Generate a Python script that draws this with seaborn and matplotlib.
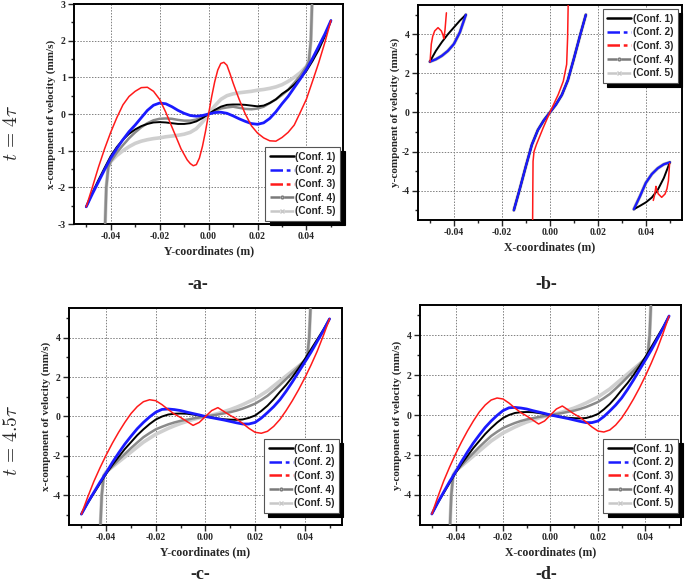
import matplotlib
matplotlib.use("Agg")
import matplotlib.pyplot as plt
from matplotlib.lines import Line2D
from matplotlib.ticker import MultipleLocator, FormatStrFormatter
import seaborn as sns

sns.set_style("white")
plt.rcParams.update({
    "font.family": "Liberation Serif",
    "font.weight": "bold",
    "axes.unicode_minus": False,
    "mathtext.fontset": "cm",
})

CONFS = ["(Conf. 1)", "(Conf. 2)", "(Conf. 3)", "(Conf. 4)", "(Conf. 5)"]

# shared coordinate lists
X_FINE = [-0.05, -0.0475, -0.045, -0.0425, -0.04, -0.0375, -0.035, -0.0325, -0.03, -0.0275,
          -0.025, -0.0225, -0.02, -0.0175, -0.015, -0.0125, -0.01, -0.0075, -0.005, -0.0025, 0.0,
          0.0025, 0.005, 0.0075, 0.01, 0.0125, 0.015, 0.0175, 0.02, 0.0225, 0.025,
          0.0275, 0.03, 0.0325, 0.035, 0.0375, 0.04, 0.0425, 0.045, 0.0475, 0.05]
X_GRAY = [-0.0425, -0.0418, -0.041, -0.04, -0.0375, -0.035, -0.0325, -0.03, -0.0275, -0.025,
          -0.0225, -0.02, -0.0175, -0.015, -0.0125, -0.01, -0.0075, -0.005, -0.0025, 0.0,
          0.0025, 0.005, 0.0075, 0.01, 0.0125, 0.015, 0.0175, 0.02, 0.0225, 0.025,
          0.0275, 0.03, 0.0325, 0.035, 0.0375, 0.04, 0.041, 0.0418, 0.0425]

# ---- panel a : t = 4 tau, x-component vs Y ----
A_CONF1 = [-2.53, -2.15, -1.8, -1.47, -1.15, -0.9, -0.7, -0.54, -0.42, -0.33,
           -0.27, -0.23, -0.22, -0.23, -0.25, -0.27, -0.27, -0.25, -0.2, -0.11, 0.0,
           0.11, 0.2, 0.25, 0.26, 0.26, 0.25, 0.23, 0.21, 0.23, 0.3,
           0.4, 0.55, 0.66, 0.8, 0.97, 1.18, 1.45, 1.75, 2.12, 2.55]
A_CONF2 = [-2.53, -2.18, -1.85, -1.52, -1.2, -0.94, -0.7, -0.48, -0.3, -0.1,
           0.1, 0.24, 0.3, 0.28, 0.2, 0.1, 0.02, -0.04, -0.06, -0.04, 0.0,
           0.04, 0.05, 0.02, -0.05, -0.13, -0.2, -0.26, -0.28, -0.24, -0.12,
           0.06, 0.28, 0.48, 0.72, 0.96, 1.22, 1.52, 1.85, 2.18, 2.55]
A_RED_X = [-0.05, -0.0475, -0.045, -0.0425, -0.04, -0.0375, -0.035, -0.0325, -0.03, -0.0275,
           -0.025, -0.0225, -0.02, -0.0175, -0.015, -0.0125, -0.01125, -0.01, -0.00875, -0.0075,
           -0.00625, -0.005, -0.00375, -0.0025, -0.00125, 0.0, 0.00125, 0.0025, 0.00375, 0.005,
           0.00625, 0.0075, 0.00875, 0.01, 0.01125, 0.0125, 0.015, 0.0175, 0.02, 0.0225,
           0.025, 0.0275, 0.03, 0.0325, 0.035, 0.0375, 0.04, 0.0425, 0.045, 0.0475, 0.05]
A_CONF3 = [-2.53, -2.0, -1.45, -0.95, -0.5, -0.1, 0.25, 0.48, 0.62, 0.72,
           0.73, 0.62, 0.4, 0.05, -0.35, -0.75, -0.95, -1.1, -1.25, -1.35,
           -1.41, -1.38, -1.2, -0.88, -0.47, 0.0, 0.47, 0.88, 1.2, 1.38,
           1.41, 1.33, 1.1, 0.85, 0.62, 0.4, 0.0, -0.32, -0.52, -0.65,
           -0.73, -0.74, -0.64, -0.5, -0.3, 0.05, 0.41, 0.9, 1.4, 1.95, 2.55]
A_CONF4 = [-3.5, -2.0, -1.45, -1.3, -1.05, -0.85, -0.66, -0.5, -0.36, -0.25,
           -0.17, -0.13, -0.12, -0.13, -0.16, -0.18, -0.18, -0.15, -0.08, 0.0,
           0.08, 0.15, 0.18, 0.2, 0.17, 0.14, 0.13, 0.15, 0.2, 0.3,
           0.4, 0.52, 0.66, 0.85, 1.05, 1.3, 1.45, 2.0, 3.5]
A_CONF5 = [-3.5, -2.0, -1.45, -1.3, -1.13, -1.0, -0.89, -0.8, -0.74, -0.7,
           -0.67, -0.65, -0.62, -0.6, -0.58, -0.55, -0.5, -0.4, -0.22, 0.0,
           0.22, 0.4, 0.5, 0.55, 0.58, 0.6, 0.62, 0.65, 0.67, 0.7,
           0.74, 0.8, 0.89, 1.0, 1.13, 1.3, 1.45, 2.0, 3.5]

# ---- panel b : t = 4 tau, y-component vs X ----
B_CENTER_X = [-0.015, -0.0125, -0.01, -0.0075, -0.005, -0.0025, 0.0, 0.0025, 0.005, 0.0075, 0.01, 0.0125, 0.015]
B_CENTER_Y = [-5.0, -3.9, -2.75, -1.65, -0.9, -0.4, 0.0, 0.4, 0.9, 1.65, 2.75, 3.9, 5.0]
B_TL_X = [-0.05, -0.0475, -0.045, -0.0425, -0.04, -0.0375, -0.035]
B_TL_CONF1 = [2.6, 3.15, 3.6, 4.0, 4.35, 4.7, 5.0]
B_TL_OTHERS = [2.6, 2.72, 2.9, 3.15, 3.5, 4.1, 5.0]
B_BR_X = [0.035, 0.0375, 0.04, 0.0425, 0.045, 0.0475, 0.05]
B_BR_CONF1 = [-4.95, -4.78, -4.6, -4.35, -3.95, -3.35, -2.55]
B_BR_OTHERS = [-4.95, -4.3, -3.6, -3.15, -2.85, -2.65, -2.55]
B_RED_CENTER_X = [-0.0072, -0.0071, -0.007, -0.0066, -0.0056, -0.0028, 0.0, 0.0035, 0.0056, 0.007, 0.0074, 0.0077]
B_RED_CENTER_Y = [-6.0, -4.0, -2.5, -2.0, -1.64, -0.79, 0.0, 0.92, 1.6, 2.46, 3.83, 6.0]
B_RED_TL_X = [-0.0499, -0.0494, -0.0488, -0.048, -0.0466, -0.0452, -0.0445, -0.0442, -0.0437, -0.0431]
B_RED_TL_Y = [2.6, 3.5, 3.9, 4.17, 4.34, 4.17, 3.95, 3.78, 4.2, 5.1]
B_RED_BR_X = [0.0499, 0.0494, 0.0488, 0.048, 0.0466, 0.0452, 0.0445, 0.0442, 0.0437, 0.0431]
B_RED_BR_Y = [-2.6, -3.5, -3.9, -4.17, -4.34, -4.17, -3.95, -3.78, -4.2, -4.5]

# ---- panels c, d : t = 4.5 tau (both panels show the same curves) ----
CD_CONF1 = [-4.95, -4.4, -3.9, -3.4, -2.9, -2.45, -2.05, -1.65, -1.3, -0.95,
            -0.65, -0.38, -0.15, 0.0, 0.1, 0.14, 0.15, 0.14, 0.1, 0.05, 0.0,
            -0.05, -0.1, -0.14, -0.16, -0.17, -0.15, -0.07, 0.05, 0.28, 0.55,
            0.88, 1.25, 1.6, 2.0, 2.43, 2.9, 3.4, 3.9, 4.4, 4.95]
CD_CONF2 = [-4.95, -4.38, -3.85, -3.33, -2.85, -2.33, -1.85, -1.4, -1.0, -0.62,
            -0.3, -0.02, 0.22, 0.36, 0.38, 0.35, 0.3, 0.22, 0.15, 0.08, 0.0,
            -0.06, -0.12, -0.18, -0.25, -0.32, -0.38, -0.38, -0.3, -0.08, 0.2,
            0.5, 0.85, 1.28, 1.75, 2.25, 2.75, 3.25, 3.8, 4.35, 4.95]
CD_CONF3 = [-4.95, -4.1, -3.3, -2.6, -1.95, -1.35, -0.8, -0.3, 0.15, 0.5,
            0.75, 0.85, 0.8, 0.6, 0.35, 0.12, -0.05, -0.25, -0.45, -0.3, 0.0,
            0.3, 0.45, 0.25, 0.05, -0.12, -0.35, -0.6, -0.8, -0.85, -0.75,
            -0.5, -0.15, 0.3, 0.8, 1.35, 1.95, 2.6, 3.3, 4.1, 4.95]
CD_CONF4 = [-6.0, -4.0, -3.0, -2.85, -2.52, -2.2, -1.9, -1.6, -1.32, -1.05,
            -0.84, -0.65, -0.52, -0.4, -0.3, -0.22, -0.16, -0.1, -0.05, 0.0,
            0.05, 0.1, 0.16, 0.22, 0.3, 0.4, 0.52, 0.65, 0.84, 1.05,
            1.32, 1.6, 1.9, 2.2, 2.52, 2.85, 3.0, 4.0, 6.0]
CD_CONF5 = [-6.0, -4.0, -3.0, -2.8, -2.55, -2.3, -2.05, -1.8, -1.55, -1.3,
            -1.1, -0.9, -0.75, -0.6, -0.47, -0.35, -0.25, -0.15, -0.07, 0.0,
            0.07, 0.15, 0.25, 0.35, 0.47, 0.6, 0.75, 0.9, 1.1, 1.3,
            1.55, 1.8, 2.05, 2.3, 2.55, 2.8, 3.0, 4.0, 6.0]

# curve styles (how each configuration looks inside the plot)
STYLE = {
    "(Conf. 1)": dict(color="black", lw=1.4, z=4),
    "(Conf. 2)": dict(color="#1a1aff", lw=2.0, z=5),
    "(Conf. 3)": dict(color="#ff1a1a", lw=1.1, z=6),
    "(Conf. 4)": dict(color="#8a8a8a", lw=1.8, z=3),
    "(Conf. 5)": dict(color="#cfcfcf", lw=2.6, z=2),
}


def draw_curve(ax, x, y, conf, lw=None):
    st = STYLE[conf]
    sns.lineplot(x=x, y=y, ax=ax, sort=False, estimator=None, color=st["color"],
                 lw=lw or st["lw"], zorder=st["z"], legend=False)


def legend_handles():
    dashdot = (0, (5, 1.5, 1.5, 1.5))
    return [
        Line2D([], [], color="black", lw=1.8),
        Line2D([], [], color="#1a1aff", lw=1.8, ls=dashdot),
        Line2D([], [], color="#ff1a1a", lw=1.8, ls=dashdot),
        Line2D([], [], color="#7a7a7a", lw=1.8, ls=(0, (4, 1.5)), marker="o", ms=2,
               mfc="#bbbbbb", mec="#7a7a7a"),
        Line2D([], [], color="#c8c8c8", lw=1.8, ls=(0, (4, 1.5)), marker="x", ms=2.5,
               mec="#c8c8c8"),
    ]


def style_axes(ax, ymax, ymajor, xlabel, ylabel, loc, anchor):
    ax.set_xlim(-0.055, 0.055)
    ax.set_ylim(-ymax, ymax)
    ax.xaxis.set_major_locator(MultipleLocator(0.02))
    ax.xaxis.set_minor_locator(MultipleLocator(0.01))
    ax.xaxis.set_major_formatter(FormatStrFormatter("%.2f"))
    ax.yaxis.set_major_locator(MultipleLocator(ymajor))
    ax.yaxis.set_minor_locator(MultipleLocator(ymajor / 2))
    ax.yaxis.set_major_formatter(FormatStrFormatter("%d"))
    ax.tick_params(which="both", direction="out", bottom=True, left=True, top=False, right=False,
                   labelsize=7, width=1, pad=2)
    ax.tick_params(which="major", length=4)
    ax.tick_params(which="minor", length=2.5)
    for lab in ax.get_xticklabels() + ax.get_yticklabels():
        lab.set_fontweight("bold")
    ax.grid(True, which="major", ls=(0, (1.5, 1.5)), color="#808080", lw=0.7)
    for sp in ax.spines.values():
        sp.set_color("black")
        sp.set_linewidth(1.4)
    ax.set_xlabel(xlabel, fontsize=8.5, fontweight="bold", labelpad=3)
    ax.set_ylabel(ylabel, fontsize=8, fontweight="bold", labelpad=1)
    leg = ax.legend(legend_handles(), CONFS, loc=loc, bbox_to_anchor=anchor, borderaxespad=0,
                    fancybox=False, framealpha=1, edgecolor="#555555", numpoints=1,
                    handlelength=2.4, handletextpad=0.15, labelspacing=0.36, borderpad=0.45,
                    prop={"family": "Liberation Sans", "weight": "bold", "size": 7.2},
                    shadow={"ox": 3, "oy": -3, "facecolor": "black", "edgecolor": "black", "alpha": 1})
    leg.get_frame().set_linewidth(0.8)
    leg.set_zorder(10)


fig = plt.figure(figsize=(6.85, 5.86), dpi=100)
ax_a = fig.add_axes([0.108, 0.6177, 0.393, 0.3754])
ax_b = fig.add_axes([0.610, 0.6246, 0.3854, 0.3669])
ax_c = fig.add_axes([0.1007, 0.1041, 0.3985, 0.3703])
ax_d = fig.add_axes([0.6131, 0.1041, 0.381, 0.3754])

# panel a
draw_curve(ax_a, X_GRAY, A_CONF5, CONFS[4])
draw_curve(ax_a, X_GRAY, A_CONF4, CONFS[3])
draw_curve(ax_a, X_FINE, A_CONF1, CONFS[0])
draw_curve(ax_a, X_FINE, A_CONF2, CONFS[1])
draw_curve(ax_a, A_RED_X, A_CONF3, CONFS[2])

# panel b
for conf in [CONFS[4], CONFS[3], CONFS[0], CONFS[1]]:
    draw_curve(ax_b, B_CENTER_X, B_CENTER_Y, conf, lw=1.6 if conf == CONFS[1] else None)
for conf in [CONFS[4], CONFS[3], CONFS[1]]:
    draw_curve(ax_b, B_TL_X, B_TL_OTHERS, conf, lw=1.6 if conf == CONFS[1] else None)
    draw_curve(ax_b, B_BR_X, B_BR_OTHERS, conf, lw=1.6 if conf == CONFS[1] else None)
draw_curve(ax_b, B_TL_X, B_TL_CONF1, CONFS[0])
draw_curve(ax_b, B_BR_X, B_BR_CONF1, CONFS[0])
draw_curve(ax_b, B_RED_CENTER_X, B_RED_CENTER_Y, CONFS[2])
draw_curve(ax_b, B_RED_TL_X, B_RED_TL_Y, CONFS[2])
draw_curve(ax_b, B_RED_BR_X, B_RED_BR_Y, CONFS[2])

# panels c and d
for ax in (ax_c, ax_d):
    draw_curve(ax, X_GRAY, CD_CONF5, CONFS[4])
    draw_curve(ax, X_GRAY, CD_CONF4, CONFS[3])
    draw_curve(ax, X_FINE, CD_CONF1, CONFS[0])
    draw_curve(ax, X_FINE, CD_CONF2, CONFS[1])
    draw_curve(ax, X_FINE, CD_CONF3, CONFS[2])

style_axes(ax_a, 3, 1, "Y-coordinates (m)", "x-component of velocity (mm/s)",
           "lower right", (0.99, 0.015))
style_axes(ax_b, 5.5, 2, "X-coordinates (m)", "y-component of velocity (mm/s)",
           "upper right", (0.985, 0.98))
style_axes(ax_c, 5.5, 2, "Y-coordinates (m)", "x-component of velocity (mm/s)",
           "lower right", (0.99, 0.057))
style_axes(ax_d, 5.5, 2, "X-coordinates (m)", "y-component of velocity (mm/s)",
           "lower right", (0.99, 0.056))

# row labels and panel captions
fig.text(0.017, 0.773, r"$t\,=\,4\tau$", rotation=90, fontsize=14, ha="center", va="center")
fig.text(0.017, 0.249, r"$t\,=\,4.5\tau$", rotation=90, fontsize=14, ha="center", va="center")
for label, xf, yf in [("-a-", 0.289, 0.5137), ("-b-", 0.798, 0.5137),
                      ("-c-", 0.292, 0.019), ("-d-", 0.797, 0.019)]:
    fig.text(xf, yf, label, fontsize=13, fontweight="bold", ha="center", va="center")

fig.savefig("out.png", dpi=100)
